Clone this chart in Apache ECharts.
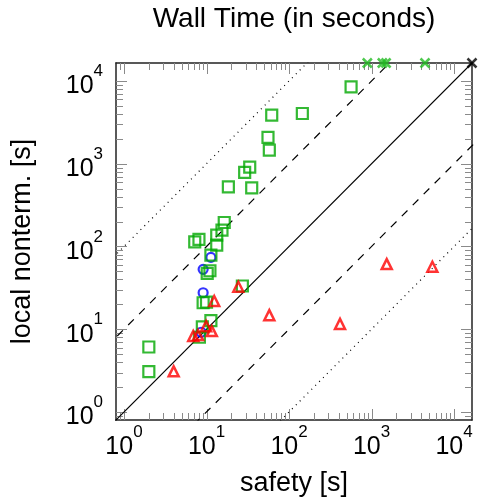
<!DOCTYPE html>
<html>
<head>
<meta charset="utf-8">
<title>Wall Time</title>
<script src="https://cdn.jsdelivr.net/npm/echarts@6/dist/echarts.min.js"></script>
<style>
    html, body { margin: 0; padding: 0; background: #fff; }
    #main { width: 479px; height: 498px; }
</style>
</head>
<body>
<div id="main"></div>
<script>
// axis range (seconds); runs that time out are drawn at the upper limit
var AXIS_MIN = 0.8;
var AXIS_MAX = 16500;
var TIMEOUT = 16500;

var majorTicks = [1, 10, 100, 1000, 10000];
var minorTicks = [0.9,
    2, 3, 4, 5, 6, 7, 8, 9,
    20, 30, 40, 50, 60, 70, 80, 90,
    200, 300, 400, 500, 600, 700, 800, 900,
    2000, 3000, 4000, 5000, 6000, 7000, 8000, 9000];

// [safety, local nonterm.]
var squares = [
    [565, 8500], [145, 4050], [61.7, 3865], [55.6, 2080], [57.7, 1460],
    [33.4, 910], [29, 785], [18.4, 526], [35.3, 512], [16.4, 195],
    [15.4, 158], [13.3, 137], [8.1, 122], [7.2, 114], [13.3, 104],
    [11.3, 78.7], [11.0, 50.9], [10.2, 47.3], [27.2, 33.3], [9.1, 20.9],
    [10.0, 21.3], [11.3, 12.7], [8.9, 10.7], [8.2, 8.0], [2.0, 6.1],
    [2.0, 3.07]
];
var circles = [[11.3, 73.8], [9.1, 52.9], [9.1, 27.6], [8.6, 9.2]];
var triangles = [
    [24.3, 32.6], [12.4, 21.9], [57.7, 14.8], [9.9, 10.9], [11.6, 9.5],
    [6.9, 8.3], [7.9, 8.5], [4.0, 3.1], [1528, 61.3], [5460, 56.9], [415, 11.6]
];
// safety finished, local nonterm. timed out
var timeoutLocalX = [889, 1352, 1500, 4450];
// both timed out
var timeoutBoth = [[TIMEOUT, TIMEOUT]];

var FONT = '"Liberation Sans", Arial, sans-serif';
var GREEN = '#00a800';
var CROSS = 'path://M0,0L10,10M10,0L0,10';

var chart = echarts.init(document.getElementById('main'));

// reference lines y = f * x
function diag(f, type) {
    return {
        type: 'line',
        silent: true,
        symbol: 'none',
        clip: true,
        z: 1,
        lineStyle: { color: '#000', width: 1.2, type: type },
        data: [[1e-3, f * 1e-3], [1e6, f * 1e6]]
    };
}

// ticks inside the box on all four sides
function ticks(values, len) {
    return {
        type: 'custom',
        silent: true,
        z: 1,
        data: values.map(function (v) { return [v, v]; }),
        renderItem: function (params, api) {
            var cs = params.coordSys;
            var p = api.coord([api.value(0), api.value(1)]);
            var x = Math.round(p[0]) + 0.5, y = Math.round(p[1]) + 0.5;
            var l = cs.x, r = cs.x + cs.width, t = cs.y, b = cs.y + cs.height;
            var st = { stroke: '#8a8a8a', lineWidth: 1 };
            return {
                type: 'group',
                children: [
                    { type: 'line', shape: { x1: x, y1: b, x2: x, y2: b - len }, style: st },
                    { type: 'line', shape: { x1: x, y1: t, x2: x, y2: t + len }, style: st },
                    { type: 'line', shape: { x1: l, y1: y, x2: l + len, y2: y }, style: st },
                    { type: 'line', shape: { x1: r, y1: y, x2: r - len, y2: y }, style: st }
                ]
            };
        }
    };
}

var labelRich = {
    b: { fontSize: 25, fontFamily: FONT, color: '#000', verticalAlign: 'bottom', lineHeight: 36 },
    s: { fontSize: 17, fontFamily: FONT, color: '#000', verticalAlign: 'top', lineHeight: 17 }
};
function powLabel(v) {
    return '{b|10}{s|' + Math.round(Math.log10(v)) + '}';
}

function logAxis(pos, main) {
    return {
        type: 'log',
        logBase: 10,
        position: pos,
        min: AXIS_MIN,
        max: AXIS_MAX,
        axisLine: { show: true, lineStyle: { color: '#222', width: 1.5 } },
        axisTick: { show: false },
        splitLine: { show: false },
        axisLabel: {
            show: main,
            showMinLabel: false,
            showMaxLabel: false,
            formatter: powLabel,
            rich: labelRich
        }
    };
}

var xMain = logAxis('bottom', true);
xMain.axisLabel.margin = 4;
xMain.name = 'safety [s]';
xMain.nameLocation = 'middle';
xMain.nameGap = 50;
xMain.nameTextStyle = { fontSize: 27, fontFamily: FONT, color: '#000' };

var yMain = logAxis('left', true);
yMain.axisLabel.margin = 13;
yMain.name = 'local nonterm. [s]';
yMain.nameLocation = 'middle';
yMain.nameGap = 80;
yMain.nameTextStyle = { fontSize: 27, fontFamily: FONT, color: '#000' };

chart.setOption({
    animation: false,
    graphic: [{
        type: 'text',
        x: 294,
        y: 5,
        silent: true,
        style: {
            text: 'Wall Time (in seconds)',
            align: 'center',
            verticalAlign: 'top',
            fontSize: 28,
            fontFamily: FONT,
            fill: '#000'
        }
    }],
    grid: { left: 116, right: 7, top: 63, bottom: 78, outerBoundsMode: 'none' },
    xAxis: [xMain, logAxis('top', false)],
    yAxis: [yMain, logAxis('right', false)],
    series: [
        diag(1, 'solid'),
        diag(10, [8, 7.5]),
        diag(0.1, [8, 7.5]),
        diag(100, [1, 4.5]),
        diag(0.01, [1, 4.5]),
        ticks(majorTicks, 11),
        ticks(minorTicks, 7),
        {
            type: 'scatter',
            z: 3,
            symbol: 'circle',
            symbolSize: 9,
            itemStyle: { color: 'rgba(0,0,0,0)', borderColor: '#0000ff', borderWidth: 2.2 },
            data: circles
        },
        {
            type: 'scatter',
            z: 4,
            symbol: 'rect',
            symbolSize: 11,
            itemStyle: { color: 'rgba(0,0,0,0)', borderColor: GREEN, borderWidth: 2.2 },
            data: squares
        },
        {
            type: 'scatter',
            z: 5,
            symbol: 'triangle',
            symbolSize: 10,
            itemStyle: { color: 'rgba(0,0,0,0)', borderColor: '#ff0000', borderWidth: 2.5 },
            data: triangles
        },
        {
            type: 'scatter',
            z: 5,
            symbol: CROSS,
            symbolSize: 9,
            itemStyle: { color: 'rgba(0,0,0,0)', borderColor: '#22bb22', borderWidth: 2.5 },
            data: timeoutLocalX.map(function (x) { return [x, TIMEOUT]; })
        },
        {
            type: 'scatter',
            z: 5,
            symbol: CROSS,
            symbolSize: 9,
            itemStyle: { color: 'rgba(0,0,0,0)', borderColor: '#000', borderWidth: 2.5 },
            data: timeoutBoth
        }
    ]
});
</script>
</body>
</html>
